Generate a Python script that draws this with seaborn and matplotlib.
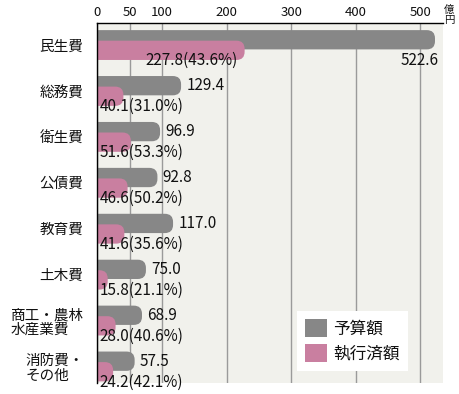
import numpy as np
import pandas as pd
import matplotlib
matplotlib.use("Agg")
import matplotlib.pyplot as plt
import seaborn as sns
from matplotlib.patches import FancyBboxPatch, Patch

categories = ['民生費', '総務費', '衛生費', '公債費', '教育費', '土木費',
              '商工・農林\n水産業費', '消防費・\nその他']
budget = [522.6, 129.4, 96.9, 92.8, 117.0, 75.0, 68.9, 57.5]
executed = [227.8, 40.1, 51.6, 46.6, 41.6, 15.8, 28.0, 24.2]
rates = [43.6, 31.0, 53.3, 50.2, 35.6, 21.1, 40.6, 42.1]
x_ticks = [0, 50, 100, 200, 300, 400, 500]
series_names = ['予算額', '執行済額']
unit_label = '億\n円'

sns.set_theme(style='white')
plt.rcParams['font.family'] = ['Noto Sans CJK JP', 'DejaVu Sans']

GRAY = '#878787'
PINK = '#c97fa0'
BG = '#f1f1ec'
TXT = '#111111'

W, H = 460, 394
fig = plt.figure(figsize=(W / 100, H / 100), dpi=100)
ax = fig.add_axes([97.5 / W, (H - 383) / H, (443 - 97.5) / W, 360 / H])
ax.set_facecolor(BG)

idx = np.arange(len(categories))
off = 0.115
bh = 0.42
df = pd.DataFrame({'pos_b': idx - off, 'pos_e': idx + off,
                   'budget': budget, 'executed': executed})

sns.barplot(data=df, x='budget', y='pos_b', orient='h', native_scale=True,
            width=bh, color=GRAY, saturation=1, errorbar=None, ax=ax)
sns.barplot(data=df, x='executed', y='pos_e', orient='h', native_scale=True,
            width=bh, color=PINK, saturation=1, errorbar=None, ax=ax)

ax.set_xlim(0, 535)
ax.set_ylim(7.36, -0.48)

# convert rectangles into rounded-end bars
t = ax.transData
p0 = t.transform((0, 0))
px_x = t.transform((1, 0))[0] - p0[0]
px_y = abs(t.transform((0, 1))[1] - p0[1])
aspect = px_x / px_y
for rect in list(ax.patches):
    x0, y0 = rect.get_x(), rect.get_y()
    w, h = rect.get_width(), rect.get_height()
    r = 0.5 * abs(h) / aspect * 0.85
    box = FancyBboxPatch((x0 - r, y0), w + r, h,
                         boxstyle=f"round,pad=0,rounding_size={r}",
                         mutation_aspect=aspect, facecolor=rect.get_facecolor(),
                         edgecolor='none', zorder=rect.get_zorder())
    rect.remove()
    ax.add_patch(box)

ax.set_xticks(x_ticks)
ax.grid(axis='x', color='#9a9a9a', lw=1)
ax.grid(axis='y', visible=False)
ax.set_axisbelow(True)
ax.xaxis.tick_top()
ax.tick_params(axis='x', length=0, pad=3, labelsize=9.5, colors=TXT)
ax.set_yticks(idx, categories)
ax.tick_params(axis='y', length=0, pad=10, labelsize=10.5, colors=TXT)
for lbl in ax.get_yticklabels():
    lbl.set_multialignment('left')
    lbl.set_linespacing(1.1)
ax.set_xlabel('')
ax.set_ylabel('')
for s in ['right', 'bottom']:
    ax.spines[s].set_visible(False)
for s in ['top', 'left']:
    ax.spines[s].set_color('black')
    ax.spines[s].set_linewidth(1)

for i, (b, e, r) in enumerate(zip(budget, executed, rates)):
    if b > 400:
        ax.text(b + 5, i + 0.34, f'{b:.1f}', ha='right', va='center',
                fontsize=11, color=TXT)
        ax.text(e - 11, i + 0.34, f'{e:.1f}({r:.1f}%)', ha='right',
                va='center', fontsize=11, color=TXT)
    else:
        ax.text(b + 8, i - off, f'{b:.1f}', ha='left', va='center',
                fontsize=11, color=TXT)
        ax.text(3.5, i + 0.34, f'{e:.1f}({r:.1f}%)', ha='left',
                va='center', fontsize=11, color=TXT)

handles = [Patch(facecolor=GRAY, edgecolor='none'),
           Patch(facecolor=PINK, edgecolor='none')]
leg = ax.legend(handles, series_names, loc='lower left',
                bbox_to_anchor=(0.5766, 0.034), borderaxespad=0,
                fontsize=12, frameon=True, fancybox=False,
                handlelength=1.3, handleheight=1.3, handletextpad=0.4,
                labelspacing=0.35, borderpad=0.5)
leg.get_frame().set_facecolor('white')
leg.get_frame().set_edgecolor('none')
leg.get_frame().set_alpha(1)
for txt in leg.get_texts():
    txt.set_color(TXT)

fig.text(449 / W, 1 - 5 / H, unit_label, ha='center', va='top',
         fontsize=7.5, linespacing=1.0, color=TXT)

fig.savefig('out.png', dpi=100, facecolor='white')
